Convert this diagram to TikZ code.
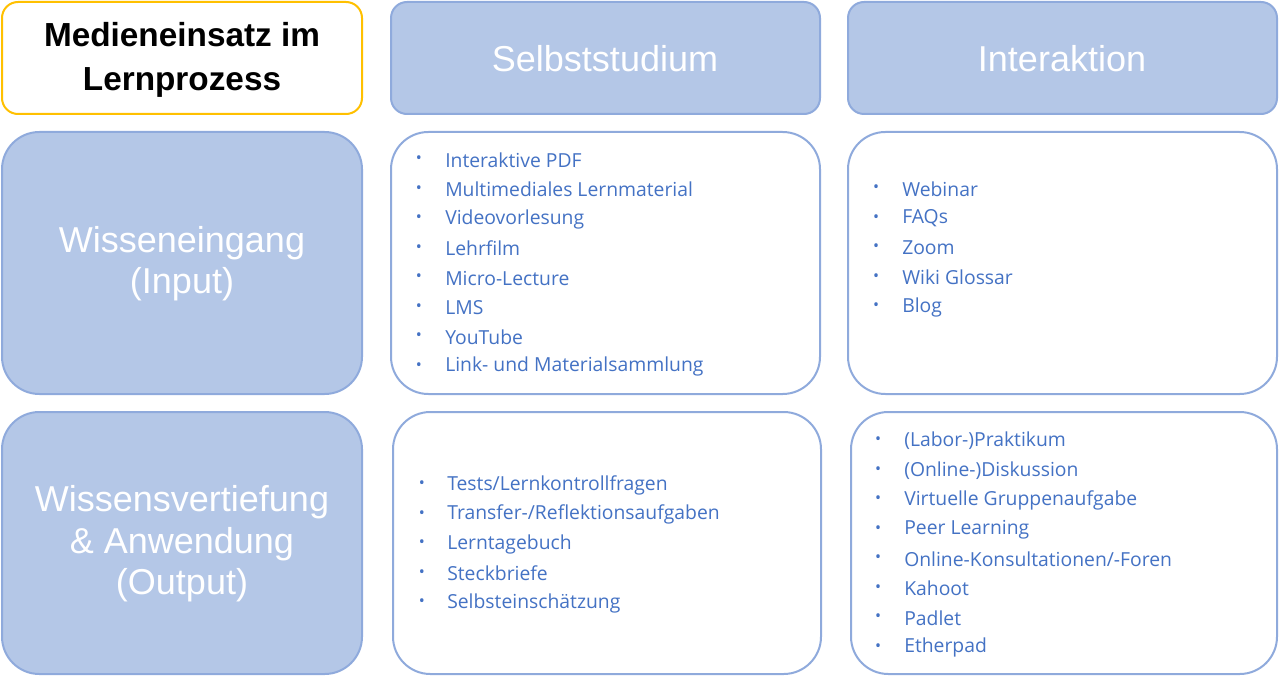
\documentclass[tikz,border=0pt]{standalone}
\usepackage{fontspec}
\setmainfont{Liberation Sans}
\newfontfamily\listfont{Open Sans}
\definecolor{hdrfill}{HTML}{B4C7E7}
\definecolor{hdrline}{HTML}{8FAADC}
\definecolor{txtblue}{HTML}{4472C4}
\definecolor{ygold}{HTML}{FFC000}
\begin{document}
\begin{tikzpicture}[x=0.75pt,y=-0.75pt,
  hdr/.style={draw=hdrline,line width=1.5pt,fill=hdrfill,rounded corners=12pt},
  side/.style={draw=hdrline,line width=1.5pt,fill=hdrfill,rounded corners=28pt},
  cont/.style={draw=hdrline,line width=1.5pt,fill=white,rounded corners=28pt},
  htxt/.style={text=white,font=\fontsize{27}{31}\selectfont,align=center},
  item/.style={anchor=west,text=txtblue,font=\listfont\fontsize{14.5}{17}\selectfont,inner sep=0pt},
  bul/.style={text=txtblue,font=\listfont\fontsize{12}{14}\selectfont,inner sep=0pt}]
\useasboundingbox (0,0) rectangle (1280,677);
\draw[draw=ygold,line width=1.5pt,fill=white,rounded corners=12pt] (2,2) rectangle (362,114);
\node[font=\bfseries\fontsize{25}{33}\selectfont,align=center] (title) at (182,60) {Medieneinsatz im\\Lernprozess};
\draw[hdr] (391,2) rectangle (820,114);
\node[htxt] (h1) at (605,59) {Selbststudium};
\draw[hdr] (848,2) rectangle (1277,114);
\node[htxt] (h2) at (1062,59) {Interaktion};
\draw[side] (2,132) rectangle (362,394);
\node[htxt] (r1) at (182,264) {Wisseneingang\\(Input)};
\draw[side] (2,412) rectangle (362,674);
\node[htxt] (r2) at (182,544) {Wissensvertiefung\\\& Anwendung\\(Output)};
\draw[cont] (391,132) rectangle (820,394);
\draw[cont] (848,132) rectangle (1277,394);
\draw[cont] (393,412) rectangle (821,674);
\draw[cont] (851,412) rectangle (1277,674);
\foreach \t [count=\i] in {Interaktive PDF,Multimediales Lernmaterial,Videovorlesung,Lehrfilm,Micro-Lecture,LMS,YouTube,Link- und Materialsammlung}
  {\node[bul] (ab\i) at (419,160+29.5*\i-29.5) {•};
   \node[item] (a\i) at (445,160+29.5*\i-29.5) {\t};}
\foreach \t [count=\i] in {Webinar,FAQs,Zoom,Wiki Glossar,Blog}
  {\node[bul] (bb\i) at (876,189+29.5*\i-29.5) {•};
   \node[item] (b\i) at (902,189+29.5*\i-29.5) {\t};}
\foreach \t [count=\i] in {Tests/Lernkontrollfragen,Transfer-/Reflektionsaufgaben,Lerntagebuch,Steckbriefe,Selbsteinschätzung}
  {\node[bul] (cb\i) at (422,485+29.5*\i-29.5) {•};
   \node[item] (c\i) at (447,485+29.5*\i-29.5) {\t};}
\foreach \t [count=\i] in {(Labor-)Praktikum,(Online-)Diskussion,Virtuelle Gruppenaufgabe,Peer Learning,Online-Konsultationen/-Foren,Kahoot,Padlet,Etherpad}
  {\node[bul] (db\i) at (878,441+29.5*\i-29.5) {•};
   \node[item] (d\i) at (904,441+29.5*\i-29.5) {\t};}
\end{tikzpicture}
\end{document}
